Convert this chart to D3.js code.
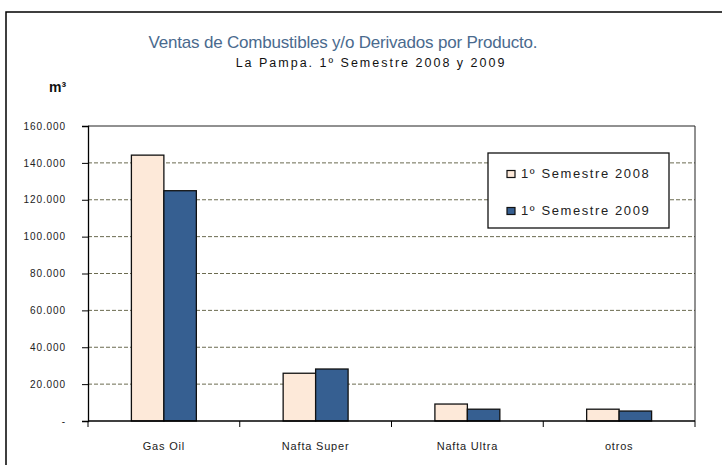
<!DOCTYPE html>
<html>
<head>
<meta charset="UTF-8">
<title>Ventas de Combustibles</title>
<script src="https://cdn.jsdelivr.net/npm/d3@7"></script>
<style type="text/css">
	body { margin:0; background-color:white; }
	svg { display:block; font-family:"Liberation Sans", Arial, sans-serif; }
</style>
</head>
<body>
<script type="text/javascript">

// donnees (m3)
var productos = ['Gas Oil', 'Nafta Super', 'Nafta Ultra', 'otros'];
var series = ['1º Semestre 2008', '1º Semestre 2009'];
var sem2008 = [144200, 25900, 9200, 6400];
var sem2009 = [124900, 28200, 6400, 5400];
var yTicks = [0, 20000, 40000, 60000, 80000, 100000, 120000, 140000, 160000];

var large = 722, haut = 465,
 cols = ['#fde9d9', '#365f91'],
 pl = 88, pr = 695, pt = 126, pb = 421;

var svg = d3.select('body').append('svg')
	.attr('width', large)
	.attr('height', haut);

// cadre exterieur
svg.append('rect')
	.attr('x', 6).attr('y', 12)
	.attr('width', 740).attr('height', 480)
	.attr('fill', 'white')
	.attr('stroke', '#000').attr('stroke-width', 1.5);

// titres
svg.append('text')
	.attr('x', 343).attr('y', 48)
	.attr('text-anchor', 'middle')
	.attr('fill', '#4a6a8e')
	.style('font-size', '17px')
	.style('letter-spacing', '-0.2px')
	.text('Ventas de Combustibles y/o Derivados por Producto.');
svg.append('text')
	.attr('x', 371).attr('y', 67)
	.attr('text-anchor', 'middle')
	.attr('fill', '#111')
	.style('font-size', '12.5px')
	.style('letter-spacing', '2px')
	.text('La Pampa. 1º Semestre 2008 y 2009');
svg.append('text')
	.attr('x', 49).attr('y', 92)
	.attr('fill', '#111')
	.style('font-size', '14px')
	.style('font-weight', 'bold')
	.text('m³');

var x = d3.scaleBand()
	.domain(productos)
	.range([pl, pr]);
var xs = d3.scaleBand()
	.domain(series)
	.range([0, x.bandwidth() * 0.428]);
var y = d3.scaleLinear()
	.domain([0, 160000])
	.range([pb, pt]);

var fmt = function(v){
	if (v === 0) return '-';
	return d3.format(',')(v).replace(/,/g, '.');
};

// grille
svg.append('g').selectAll('line')
	.data(yTicks.filter(function(d){ return d > 0 && d < 160000; }))
	.enter().append('line')
	.attr('x1', pl).attr('x2', pr)
	.attr('y1', function(d){ return y(d); })
	.attr('y2', function(d){ return y(d); })
	.attr('stroke', '#6b6b50')
	.attr('stroke-width', 1)
	.attr('stroke-dasharray', '4,2');

// bord du trace
svg.append('path')
	.attr('d', 'M' + pl + ',' + pt + 'H' + pr + 'V' + pb)
	.attr('fill', 'none')
	.attr('stroke', '#222')
	.attr('stroke-width', 1);

// barres
var data = [];
productos.forEach(function(p, i){
	data.push({p:p, s:series[0], v:sem2008[i], c:cols[0]});
	data.push({p:p, s:series[1], v:sem2009[i], c:cols[1]});
});
var off = (x.bandwidth() - xs.range()[1]) / 2;
svg.append('g').selectAll('rect')
	.data(data).enter().append('rect')
	.attr('x', function(d){ return x(d.p) + off + xs(d.s); })
	.attr('y', function(d){ return y(d.v); })
	.attr('width', xs.bandwidth())
	.attr('height', function(d){ return pb - y(d.v); })
	.attr('fill', function(d){ return d.c; })
	.attr('stroke', '#111')
	.attr('stroke-width', 1.3);

// axe y
var ay = svg.append('g')
	.attr('transform', 'translate(' + pl + ',0)')
	.call(d3.axisLeft(y).tickValues(yTicks).tickSize(6).tickPadding(16).tickFormat(fmt));
ay.select('.domain').attr('stroke', '#000').attr('stroke-width', 1.3);
ay.selectAll('line').attr('stroke', '#000');
ay.selectAll('text')
	.attr('fill', '#222')
	.style('font-size', '10px')
	.style('letter-spacing', '0.9px')
	.style('font-family', '"Liberation Sans", Arial, sans-serif');

// axe x
var ax = svg.append('g')
	.attr('transform', 'translate(0,' + pb + ')');
ax.append('line')
	.attr('x1', pl).attr('x2', pr)
	.attr('stroke', '#000').attr('stroke-width', 1.3);
ax.selectAll('.tk')
	.data(productos.concat(['fin'])).enter().append('line')
	.attr('class', 'tk')
	.attr('x1', function(d, i){ return pl + i * x.step(); })
	.attr('x2', function(d, i){ return pl + i * x.step(); })
	.attr('y1', 0).attr('y2', 6)
	.attr('stroke', '#000');
ax.selectAll('.lab')
	.data(productos).enter().append('text')
	.attr('class', 'lab')
	.attr('x', function(d){ return x(d) + x.bandwidth() / 2; })
	.attr('y', 29)
	.attr('text-anchor', 'middle')
	.attr('fill', '#222')
	.style('font-size', '11px')
	.style('letter-spacing', '0.8px')
	.text(function(d){ return d; });

// legende
var lg = svg.append('g').attr('transform', 'translate(488,153)');
lg.append('rect')
	.attr('width', 181).attr('height', 75)
	.attr('fill', 'white')
	.attr('stroke', '#111').attr('stroke-width', 1.3);
var it = lg.selectAll('.it')
	.data(series).enter().append('g')
	.attr('class', 'it')
	.attr('transform', function(d, i){ return 'translate(19,' + (17.5 + i * 37) + ')'; });
it.append('rect')
	.attr('width', 8).attr('height', 7)
	.attr('fill', function(d, i){ return cols[i]; })
	.attr('stroke', '#111').attr('stroke-width', 1.2);
it.append('text')
	.attr('x', 14).attr('y', 7)
	.attr('fill', '#222')
	.style('font-size', '13px')
	.style('letter-spacing', '1.6px')
	.text(function(d){ return d; });

</script>
</body>
</html>
